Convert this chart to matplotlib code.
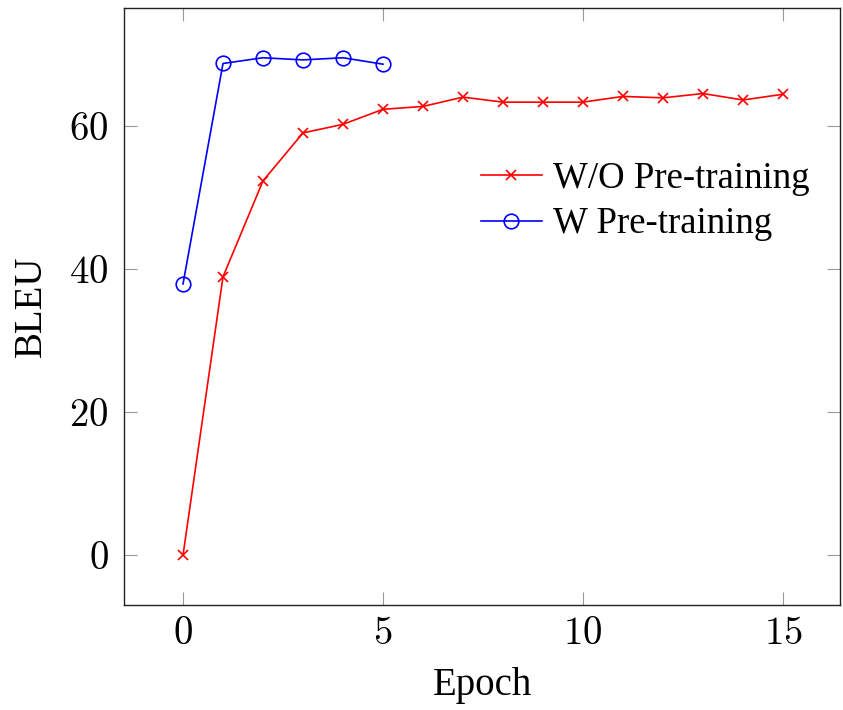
import matplotlib.pyplot as plt

plt.rcParams['font.family'] = ['Liberation Serif', 'DejaVu Serif']
plt.rcParams['mathtext.fontset'] = 'cm'

# BLEU per epoch
epochs_wo = list(range(16))
bleu_wo = [0.0, 38.9, 52.3, 59.0, 60.2, 62.3, 62.7, 64.0, 63.3, 63.3,
           63.3, 64.1, 63.9, 64.5, 63.6, 64.4]

epochs_w = list(range(6))
bleu_w = [37.9, 68.7, 69.5, 69.2, 69.5, 68.6]

x_ticks = [0, 5, 10, 15]
y_ticks = [0, 20, 40, 60]

fig = plt.figure(figsize=(8.43, 7.10), dpi=100)
ax = fig.add_axes([124 / 843, 1 - 605 / 710, 716 / 843, 597 / 710])

ax.plot(epochs_wo, bleu_wo, color='red', marker='x', markersize=7.5,
        markeredgewidth=1.2, linewidth=1.2, label='W/O Pre-training')
ax.plot(epochs_w, bleu_w, color='blue', marker='o', markersize=10.5,
        markerfacecolor='none', markeredgewidth=1.2, linewidth=1.2,
        label='W Pre-training')

ax.set_xlim(-1.475, 16.425)
ax.set_ylim(-6.95, 76.45)
ax.set_xticks(x_ticks)
ax.set_xticklabels([f'${v}$' for v in x_ticks])
ax.set_yticks(y_ticks)
ax.set_yticklabels([f'${v}$' for v in y_ticks])

ax.tick_params(direction='in', length=9.5, width=0.8, color='#999999',
               top=True, right=True, labelsize=28)
ax.tick_params(axis='x', pad=8)
ax.tick_params(axis='y', pad=11)
for s in ax.spines.values():
    s.set_linewidth(1.0)
    s.set_color('#222222')

ax.set_xlabel('Epoch', fontsize=28, labelpad=10)
ax.set_ylabel('BLEU', fontsize=28, labelpad=14)

ax.legend(loc='upper left', bbox_to_anchor=(0.498, 0.743),
          frameon=False, fontsize=26.5, handlelength=1.68, handletextpad=0.28,
          labelspacing=0.3, borderaxespad=0, borderpad=0)

fig.savefig('out.png', dpi=100)
